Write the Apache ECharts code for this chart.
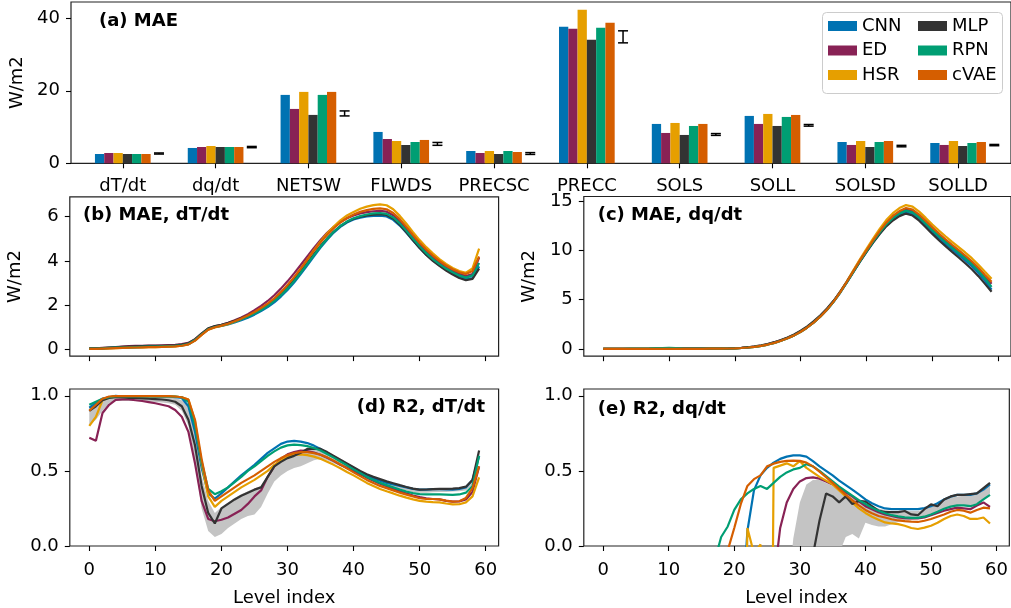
<!DOCTYPE html>
<html>
<head>
<meta charset="utf-8">
<script src="https://cdn.jsdelivr.net/npm/echarts@6/dist/echarts.min.js"></script>
<style>html,body{margin:0;padding:0;background:#fff;}#c{width:1011px;height:608px;}</style>
</head>
<body>
<div id="c"></div>
<script>
// ---------- DATA ----------
const models = ['CNN', 'ED', 'HSR', 'MLP', 'RPN', 'cVAE'];
const colors = ['#0072B2', '#882255', '#E69F00', '#333333', '#009E73', '#D55E00'];
const variables = ['dT/dt', 'dq/dt', 'NETSW', 'FLWDS', 'PRECSC', 'PRECC', 'SOLS', 'SOLL', 'SOLSD', 'SOLLD'];

// (a) MAE per variable
const maeCNN  = [2.57, 4.23, 18.87, 8.65, 3.40, 37.65, 10.86, 13.07, 5.88, 5.60];
const maeED   = [2.85, 4.50, 15.00, 6.70, 2.85, 37.10,  8.37, 10.86, 5.06, 5.06];
const maeHSR  = [2.85, 4.78, 19.70, 6.16, 3.40, 42.35, 11.13, 13.62, 6.16, 6.16];
const maeMLP  = [2.57, 4.50, 13.35, 5.05, 2.57, 34.06,  7.82, 10.30, 4.50, 4.78];
const maeRPN  = [2.57, 4.50, 18.87, 5.88, 3.40, 37.38, 10.30, 12.79, 5.88, 5.60];
const maeCVAE = [2.57, 4.50, 19.70, 6.44, 3.12, 38.76, 10.86, 13.34, 6.16, 5.88];
// reference error bars (low / high)
const refLow  = [2.55, 4.30, 13.07, 4.96, 2.45, 33.23, 7.70, 10.25, 4.55, 4.85];
const refHigh = [2.85, 4.65, 14.45, 5.75, 2.95, 36.55, 8.20, 10.70, 4.95, 5.20];

// (b) MAE dT/dt per level (levels 0..59)
const bCNN  = [0.02,0.02,0.03,0.04,0.05,0.06,0.07,0.08,0.09,0.10,0.10,0.11,0.12,0.13,0.16,0.22,0.40,0.66,0.90,1.00,1.05,1.12,1.21,1.31,1.42,1.56,1.72,1.90,2.12,2.38,2.68,3.02,3.40,3.80,4.20,4.60,4.96,5.28,5.54,5.74,5.88,5.96,6.01,6.04,6.05,6.01,5.86,5.60,5.27,4.92,4.58,4.28,4.02,3.80,3.60,3.44,3.30,3.18,3.22,3.75];
const bED   = [0.03,0.03,0.05,0.07,0.09,0.11,0.13,0.14,0.15,0.16,0.16,0.17,0.18,0.19,0.22,0.28,0.45,0.70,0.92,1.03,1.10,1.19,1.30,1.43,1.58,1.76,1.96,2.18,2.44,2.74,3.07,3.43,3.81,4.20,4.59,4.95,5.27,5.54,5.76,5.93,6.06,6.15,6.21,6.25,6.27,6.23,6.07,5.81,5.47,5.11,4.76,4.45,4.17,3.93,3.73,3.55,3.41,3.31,3.40,4.15];
const bHSR  = [0.01,0.01,0.02,0.03,0.04,0.05,0.06,0.07,0.08,0.09,0.09,0.10,0.11,0.12,0.15,0.21,0.38,0.64,0.88,0.98,1.05,1.13,1.24,1.36,1.50,1.66,1.84,2.04,2.28,2.56,2.88,3.24,3.64,4.06,4.48,4.88,5.24,5.56,5.84,6.06,6.22,6.36,6.46,6.53,6.56,6.52,6.34,6.04,5.68,5.30,4.94,4.62,4.34,4.08,3.86,3.68,3.54,3.46,3.66,4.55];
const bMLP  = [0.03,0.03,0.04,0.06,0.08,0.10,0.11,0.12,0.13,0.14,0.14,0.15,0.16,0.17,0.20,0.26,0.44,0.70,0.94,1.04,1.10,1.18,1.28,1.40,1.52,1.66,1.82,2.00,2.22,2.48,2.78,3.12,3.50,3.90,4.30,4.68,5.02,5.33,5.58,5.77,5.91,6.00,6.06,6.10,6.12,6.08,5.92,5.64,5.29,4.93,4.58,4.27,4.00,3.77,3.56,3.38,3.22,3.12,3.18,3.65];
const bRPN  = [0.02,0.02,0.03,0.05,0.06,0.07,0.08,0.09,0.10,0.11,0.11,0.12,0.13,0.14,0.17,0.23,0.41,0.67,0.90,1.00,1.06,1.14,1.24,1.35,1.47,1.61,1.77,1.96,2.18,2.44,2.74,3.08,3.46,3.86,4.26,4.65,5.00,5.32,5.58,5.78,5.93,6.03,6.10,6.15,6.17,6.13,5.97,5.70,5.36,5.00,4.66,4.35,4.08,3.85,3.65,3.48,3.34,3.24,3.34,3.90];
const bCVAE = [0.01,0.01,0.02,0.03,0.04,0.05,0.06,0.07,0.08,0.09,0.09,0.10,0.11,0.12,0.15,0.21,0.38,0.64,0.88,0.99,1.06,1.15,1.26,1.38,1.52,1.68,1.86,2.06,2.30,2.58,2.90,3.26,3.65,4.06,4.46,4.84,5.18,5.48,5.74,5.94,6.10,6.22,6.30,6.36,6.38,6.34,6.17,5.89,5.54,5.17,4.82,4.51,4.24,4.00,3.79,3.62,3.48,3.40,3.54,4.20];

// (c) MAE dq/dt per level
const cCNN  = [0.02,0.02,0.02,0.02,0.02,0.02,0.02,0.02,0.02,0.03,0.03,0.03,0.03,0.03,0.03,0.03,0.03,0.04,0.04,0.05,0.07,0.10,0.15,0.22,0.32,0.45,0.62,0.83,1.08,1.38,1.75,2.18,2.70,3.30,3.98,4.78,5.70,6.72,7.78,8.84,9.84,10.80,11.70,12.50,13.12,13.58,13.85,13.65,13.15,12.50,11.84,11.22,10.64,10.08,9.53,8.97,8.38,7.70,6.90,6.02];
const cED   = [0.02,0.02,0.02,0.02,0.02,0.02,0.02,0.02,0.02,0.03,0.03,0.03,0.03,0.03,0.03,0.03,0.04,0.05,0.05,0.06,0.08,0.11,0.17,0.25,0.35,0.49,0.67,0.89,1.14,1.44,1.81,2.24,2.76,3.36,4.05,4.86,5.80,6.84,7.92,9.00,10.02,11.00,11.92,12.74,13.40,13.88,14.16,13.98,13.48,12.84,12.18,11.56,10.98,10.42,9.88,9.32,8.74,8.06,7.32,6.62];
const cHSR  = [0.01,0.01,0.01,0.01,0.01,0.01,0.01,0.01,0.01,0.02,0.02,0.02,0.02,0.02,0.02,0.02,0.03,0.03,0.04,0.05,0.07,0.10,0.15,0.22,0.32,0.45,0.62,0.83,1.08,1.38,1.75,2.18,2.70,3.30,4.00,4.82,5.78,6.84,7.96,9.08,10.14,11.18,12.16,13.06,13.76,14.28,14.58,14.42,13.92,13.28,12.62,12.00,11.42,10.86,10.32,9.78,9.20,8.54,7.82,7.12];
const cMLP  = [0.02,0.02,0.02,0.02,0.02,0.02,0.02,0.02,0.02,0.03,0.03,0.03,0.03,0.03,0.03,0.03,0.04,0.05,0.05,0.06,0.08,0.12,0.18,0.26,0.37,0.51,0.69,0.91,1.17,1.48,1.86,2.30,2.82,3.42,4.10,4.88,5.78,6.78,7.82,8.86,9.84,10.78,11.64,12.42,13.02,13.46,13.72,13.52,13.00,12.34,11.66,11.02,10.42,9.84,9.27,8.69,8.08,7.38,6.60,5.80];
const cRPN  = [0.02,0.02,0.02,0.02,0.03,0.04,0.05,0.06,0.08,0.10,0.12,0.10,0.07,0.05,0.04,0.03,0.03,0.04,0.04,0.05,0.07,0.10,0.15,0.22,0.32,0.45,0.62,0.83,1.08,1.38,1.75,2.18,2.70,3.30,3.98,4.79,5.72,6.75,7.82,8.89,9.90,10.88,11.80,12.62,13.26,13.74,14.02,13.84,13.33,12.70,12.04,11.42,10.84,10.28,9.74,9.18,8.59,7.92,7.14,6.30];
const cCVAE = [0.01,0.01,0.01,0.01,0.01,0.01,0.01,0.01,0.01,0.02,0.02,0.02,0.02,0.02,0.02,0.02,0.03,0.03,0.04,0.05,0.07,0.10,0.15,0.22,0.32,0.45,0.62,0.83,1.08,1.38,1.75,2.18,2.70,3.30,3.99,4.80,5.74,6.79,7.88,8.97,10.00,11.00,11.94,12.80,13.48,13.98,14.28,14.12,13.62,12.98,12.32,11.70,11.12,10.56,10.02,9.47,8.89,8.23,7.50,6.80];

// (d) R2 dT/dt per level
const dCNN  = [0.92,0.95,0.98,0.99,1.00,0.995,0.995,0.995,0.995,0.995,0.995,0.995,0.995,0.99,0.985,0.93,0.76,0.52,0.35,0.315,0.35,0.39,0.43,0.47,0.505,0.54,0.58,0.62,0.65,0.68,0.695,0.70,0.695,0.685,0.668,0.646,0.62,0.595,0.57,0.545,0.52,0.495,0.47,0.45,0.435,0.42,0.41,0.40,0.39,0.38,0.375,0.375,0.378,0.378,0.376,0.375,0.38,0.39,0.44,0.60];
const dED   = [0.72,0.70,0.885,0.94,0.972,0.976,0.975,0.97,0.965,0.958,0.95,0.94,0.93,0.905,0.86,0.76,0.55,0.30,0.18,0.165,0.175,0.19,0.215,0.24,0.28,0.33,0.37,0.46,0.53,0.58,0.61,0.625,0.635,0.632,0.622,0.607,0.588,0.565,0.54,0.52,0.50,0.478,0.455,0.434,0.415,0.397,0.38,0.365,0.35,0.336,0.325,0.318,0.313,0.31,0.30,0.295,0.297,0.31,0.36,0.53];
const dHSR  = [0.80,0.86,0.97,0.99,0.998,0.998,0.998,0.998,0.998,0.998,0.998,0.998,0.998,0.995,0.99,0.975,0.83,0.55,0.33,0.26,0.30,0.33,0.36,0.39,0.415,0.44,0.47,0.50,0.54,0.57,0.595,0.607,0.61,0.605,0.595,0.58,0.56,0.54,0.517,0.493,0.47,0.445,0.42,0.40,0.38,0.364,0.35,0.335,0.322,0.31,0.30,0.295,0.292,0.29,0.283,0.277,0.278,0.29,0.33,0.457];
const dMLP  = [0.90,0.93,0.97,0.985,0.99,0.99,0.985,0.985,0.983,0.98,0.978,0.975,0.97,0.96,0.93,0.84,0.67,0.40,0.22,0.15,0.25,0.28,0.31,0.335,0.355,0.375,0.39,0.46,0.53,0.56,0.585,0.60,0.62,0.646,0.648,0.646,0.625,0.60,0.575,0.55,0.525,0.50,0.478,0.46,0.445,0.43,0.418,0.405,0.393,0.382,0.375,0.376,0.378,0.38,0.38,0.382,0.385,0.395,0.44,0.635];
const dRPN  = [0.94,0.96,0.98,0.99,0.995,0.995,0.995,0.995,0.995,0.995,0.995,0.995,0.995,0.995,0.99,0.96,0.80,0.56,0.38,0.345,0.365,0.39,0.425,0.46,0.50,0.53,0.565,0.60,0.63,0.655,0.67,0.675,0.672,0.665,0.652,0.635,0.612,0.588,0.562,0.537,0.51,0.485,0.46,0.44,0.42,0.405,0.39,0.375,0.362,0.352,0.345,0.343,0.343,0.344,0.342,0.34,0.343,0.355,0.40,0.60];
const dCVAE = [0.90,0.94,0.98,0.995,0.998,0.998,0.998,0.998,0.998,0.998,0.998,0.998,0.998,0.995,0.99,0.975,0.84,0.58,0.37,0.30,0.33,0.36,0.39,0.42,0.445,0.47,0.50,0.53,0.56,0.585,0.605,0.618,0.625,0.625,0.618,0.607,0.59,0.568,0.543,0.517,0.49,0.465,0.44,0.42,0.40,0.385,0.37,0.355,0.342,0.33,0.318,0.313,0.313,0.31,0.302,0.295,0.298,0.32,0.385,0.53];
const dBandLow  = [0.80,0.84,0.90,0.95,0.965,0.965,0.965,0.965,0.962,0.96,0.958,0.955,0.95,0.94,0.90,0.80,0.55,0.25,0.10,0.06,0.08,0.12,0.15,0.18,0.20,0.21,0.26,0.35,0.43,0.47,0.50,0.52,0.53,0.55,0.57,0.58,0.57,0.55,0.53,0.51,0.49,0.47,0.45,0.43,0.415,0.40,0.39,0.38,0.37,0.36,0.355,0.355,0.357,0.36,0.36,0.362,0.365,0.37,0.41,0.58];
const dBandHigh = [0.93,0.95,0.98,0.99,0.995,0.995,0.995,0.995,0.995,0.995,0.995,0.995,0.99,0.985,0.97,0.93,0.75,0.47,0.30,0.22,0.26,0.29,0.32,0.345,0.365,0.385,0.40,0.47,0.54,0.58,0.61,0.625,0.635,0.65,0.652,0.65,0.63,0.605,0.58,0.555,0.53,0.505,0.482,0.463,0.448,0.433,0.42,0.408,0.396,0.386,0.38,0.38,0.382,0.384,0.384,0.386,0.39,0.40,0.45,0.64];

// (e) R2 dq/dt per level (values below 0 fall off the axis)
const eCNN  = [-1.5,-1.5,-1.5,-1.5,-1.5,-1.5,-1.5,-1.5,-1.5,-1.5,-1.5,-1.5,-1.5,-1.5,-1.5,-1.5,-1.5,-1.5,-1.5,-1.5,-1.5,-0.6,0.10,0.37,0.47,0.52,0.555,0.58,0.595,0.603,0.603,0.595,0.565,0.53,0.50,0.47,0.435,0.405,0.375,0.343,0.31,0.285,0.265,0.25,0.245,0.245,0.245,0.245,0.245,0.252,0.265,0.285,0.31,0.328,0.34,0.34,0.34,0.35,0.375,0.41];
const eED   = [-1.5,-1.5,-1.5,-1.5,-1.5,-1.5,-1.5,-1.5,-1.5,-1.5,-1.5,-1.5,-1.5,-1.5,-1.5,-1.5,-1.5,-1.5,-1.5,-1.5,-1.5,-1.5,-1.5,-1.5,-1.5,-1.5,-0.25,0.12,0.29,0.38,0.43,0.452,0.457,0.448,0.43,0.41,0.385,0.358,0.33,0.297,0.265,0.245,0.225,0.21,0.20,0.19,0.185,0.183,0.183,0.19,0.205,0.22,0.235,0.245,0.255,0.25,0.245,0.27,0.29,0.26];
const eHSR  = [-3,-3,-3,-3,-3,-3,-3,-3,-3,-3,-3,-3,-3,-3,-3,-3,-3,-3,-3,-3,-3,-3,0.12,-0.05,0.01,-5,0.52,0.535,0.55,0.53,0.565,0.52,0.49,0.46,0.435,0.41,0.37,0.33,0.29,0.25,0.22,0.195,0.175,0.157,0.15,0.146,0.135,0.12,0.113,0.122,0.135,0.155,0.18,0.20,0.21,0.20,0.18,0.18,0.19,0.15];
const eMLP  = [-1.5,-1.5,-1.5,-1.5,-1.5,-1.5,-1.5,-1.5,-1.5,-1.5,-1.5,-1.5,-1.5,-1.5,-1.5,-1.5,-1.5,-1.5,-1.5,-1.5,-1.5,-1.5,-1.5,-1.5,-1.5,-1.5,-1.5,-1.5,-1.5,-1.5,-1.5,-1.5,-0.06,0.17,0.35,0.33,0.29,0.33,0.28,0.30,0.295,0.265,0.235,0.226,0.226,0.226,0.233,0.21,0.205,0.245,0.277,0.265,0.31,0.33,0.34,0.34,0.345,0.35,0.385,0.42];
const eRPN  = [-1.5,-1.5,-1.5,-1.5,-1.5,-1.5,-1.5,-1.5,-1.5,-1.5,-1.5,-1.5,-1.5,-1.5,-1.5,-1.5,-1.5,-0.1,0.06,0.13,0.24,0.31,0.35,0.38,0.40,0.38,0.42,0.46,0.49,0.51,0.52,0.545,0.53,0.50,0.465,0.43,0.395,0.365,0.335,0.305,0.28,0.255,0.235,0.218,0.205,0.197,0.19,0.187,0.187,0.195,0.21,0.228,0.248,0.262,0.27,0.27,0.265,0.278,0.31,0.34];
const eCVAE = [-1.5,-1.5,-1.5,-1.5,-1.5,-1.5,-1.5,-1.5,-1.5,-1.5,-1.5,-1.5,-1.5,-1.5,-1.5,-1.5,-1.5,-1.5,-1.5,-0.03,0.12,0.28,0.40,0.445,0.47,0.53,0.548,0.56,0.566,0.568,0.567,0.555,0.53,0.495,0.458,0.42,0.38,0.34,0.305,0.27,0.24,0.218,0.20,0.19,0.178,0.17,0.165,0.162,0.16,0.168,0.18,0.195,0.21,0.228,0.24,0.235,0.222,0.24,0.255,0.25];
const eBandLow  = [null,null,null,null,null,null,null,null,null,null,null,null,null,null,null,null,null,null,null,null,null,null,null,null,null,null,null,null,-0.4,-0.5,-0.5,-0.5,-0.5,-0.5,-0.5,-0.5,-0.05,0.06,0.08,0.05,0.155,0.14,0.13,0.13,0.145,0.16,0.17,0.175,0.18,0.19,0.205,0.225,0.245,0.26,0.27,0.27,0.27,0.285,0.315,0.35];
const eBandHigh = [null,null,null,null,null,null,null,null,null,null,null,null,null,null,null,null,null,null,null,null,null,null,null,null,null,null,null,null,-0.4,0.05,0.29,0.41,0.44,0.44,0.42,0.40,0.38,0.36,0.33,0.305,0.28,0.265,0.25,0.24,0.233,0.233,0.233,0.233,0.233,0.245,0.265,0.285,0.31,0.322,0.33,0.335,0.34,0.35,0.375,0.41];

const levelTicks = [0, 10, 20, 30, 40, 50, 60];
const maeTicksA = [0, 20, 40];
const maeTicksB = [0, 2, 4, 6];
const maeTicksC = [0, 5, 10, 15];
const r2Ticks = [0, 0.5, 1.0];

// ---------- CHART ----------
const FONT = '"DejaVu Sans", sans-serif';
const BAR_W = 0.1;
const ERR_OFF = 0.39;
const chart = echarts.init(document.getElementById('c'), null, { renderer: 'canvas' });

const maeSets = [maeCNN, maeED, maeHSR, maeMLP, maeRPN, maeCVAE];
const bSets = [bCNN, bED, bHSR, bMLP, bRPN, bCVAE];
const cSets = [cCNN, cED, cHSR, cMLP, cRPN, cCVAE];
const dSets = [dCNN, dED, dHSR, dMLP, dRPN, dCVAE];
const eSets = [eCNN, eED, eHSR, eMLP, eRPN, eCVAE];

const tickStyle = { show: true, length: 5, inside: false, lineStyle: { color: '#000', width: 1.1 } };
const labelBase = { color: '#000', fontSize: 18, fontFamily: FONT, margin: 11 };
const hiddenLine = { show: false, onZero: false };

function gridBox(left, top, width, height) {
  return { left, top, width, height, show: true, borderColor: '#222', borderWidth: 1.2, backgroundColor: 'transparent', containLabel: false };
}
function levelX(gi, showLabels) {
  return {
    type: 'value', gridIndex: gi, min: -2.95, max: 61.95, position: 'bottom',
    splitLine: { show: false }, axisLine: hiddenLine,
    axisTick: Object.assign({}, tickStyle, { customValues: levelTicks }),
    axisLabel: Object.assign({}, labelBase, { show: showLabels, customValues: levelTicks, margin: 15 }),
    name: showLabels ? 'Level index' : '', nameLocation: 'middle', nameGap: 43,
    nameTextStyle: { color: '#000', fontSize: 18, fontFamily: FONT }
  };
}
function valY(gi, min, max, ticks, name, fmt) {
  return {
    type: 'value', gridIndex: gi, min, max, position: 'left',
    splitLine: { show: false }, axisLine: hiddenLine,
    axisTick: Object.assign({}, tickStyle, { customValues: ticks }),
    axisLabel: Object.assign({}, labelBase, { customValues: ticks, formatter: fmt || (v => String(v)) }),
    name: name || '', nameLocation: 'middle', nameGap: 45, nameRotate: 90,
    nameTextStyle: { color: '#000', fontSize: 18, fontFamily: FONT }
  };
}

const series = [];
// (a) bars
models.forEach((m, k) => {
  series.push({
    type: 'custom', name: m, xAxisIndex: 0, yAxisIndex: 0,
    itemStyle: { color: colors[k] },
    data: variables.map((v, i) => [i, maeSets[k][i]]),
    renderItem: (params, api) => {
      const i = api.value(0), val = api.value(1);
      const x0 = i + (k - 2.5) * BAR_W - BAR_W / 2;
      const p1 = api.coord([x0, val]);
      const p2 = api.coord([x0 + BAR_W, 0]);
      return { type: 'rect', shape: { x: p1[0], y: p1[1], width: p2[0] - p1[0], height: p2[1] - p1[1] },
               style: { fill: colors[k] } };
    }
  });
});
// (a) reference error bars
series.push({
  type: 'custom', name: 'ref', xAxisIndex: 0, yAxisIndex: 0, silent: true,
  data: variables.map((v, i) => [i, refLow[i], refHigh[i]]),
  renderItem: (params, api) => {
    const x = api.value(0) + ERR_OFF;
    const lo = api.coord([x, api.value(1)]);
    const hi = api.coord([x, api.value(2)]);
    const cap = 5;
    const st = { stroke: '#000', lineWidth: 1.5 };
    return { type: 'group', children: [
      { type: 'line', shape: { x1: lo[0], y1: lo[1], x2: hi[0], y2: hi[1] }, style: st },
      { type: 'line', shape: { x1: lo[0] - cap, y1: lo[1], x2: lo[0] + cap, y2: lo[1] }, style: st },
      { type: 'line', shape: { x1: hi[0] - cap, y1: hi[1], x2: hi[0] + cap, y2: hi[1] }, style: st }
    ] };
  }
});
// bands
function bandSeries(gi, low, high) {
  return {
    type: 'custom', name: 'band' + gi, xAxisIndex: gi, yAxisIndex: gi, silent: true, clip: true, z: 1,
    data: [[0, 0]],
    renderItem: (params, api) => {
      const pts = [];
      for (let i = 0; i < high.length; i++) if (high[i] !== null) pts.push(api.coord([i, high[i]]));
      for (let i = low.length - 1; i >= 0; i--) if (low[i] !== null) pts.push(api.coord([i, low[i]]));
      return { type: 'polygon', shape: { points: pts }, style: { fill: '#c4c4c4' } };
    }
  };
}
series.push(bandSeries(3, dBandLow, dBandHigh));
series.push(bandSeries(4, eBandLow, eBandHigh));
// line panels
function lineSeries(gi, sets) {
  models.forEach((m, k) => {
    series.push({
      type: 'line', name: m, xAxisIndex: gi, yAxisIndex: gi, showSymbol: false, symbol: 'none',
      clip: true, z: 3,
      lineStyle: { color: colors[k], width: 2.2 }, itemStyle: { color: colors[k] },
      data: sets[k].map((v, i) => [i, v])
    });
  });
}
lineSeries(1, bSets);
lineSeries(2, cSets);
lineSeries(3, dSets);
lineSeries(4, eSets);

const legendCommon = {
  orient: 'vertical', top: 16, itemWidth: 29, itemHeight: 10, itemGap: 4.5, icon: 'rect', padding: 0,
  textStyle: { color: '#000', fontSize: 18, fontFamily: FONT, lineHeight: 20 }, selectedMode: false
};

const option = {
  animation: false,
  backgroundColor: '#fff',
  grid: [
    gridBox(70, 2, 944, 161.3),
    gridBox(69.8, 196.9, 428.8, 159.2),
    gridBox(583.8, 196.5, 428.4, 159.7),
    gridBox(69.8, 389, 428.8, 160.3),
    gridBox(583.8, 389, 428.4, 160.3)
  ],
  xAxis: [
    {
      type: 'value', gridIndex: 0, min: -0.558, max: 9.57, position: 'bottom',
      splitLine: { show: false }, axisLine: hiddenLine,
      axisTick: Object.assign({}, tickStyle, { customValues: variables.map((v, i) => i) }),
      axisLabel: Object.assign({}, labelBase, { customValues: variables.map((v, i) => i), margin: 14,
        formatter: v => variables[Math.round(v)] })
    },
    levelX(1, false), levelX(2, false), levelX(3, true), levelX(4, true)
  ],
  yAxis: [
    valY(0, 0, 44.5, maeTicksA, 'W/m2'),
    valY(1, -0.32, 6.9, maeTicksB, 'W/m2'),
    valY(2, -0.73, 15.45, maeTicksC, 'W/m2'),
    valY(3, 0, 1.045, r2Ticks, '', v => v.toFixed(1)),
    valY(4, 0, 1.045, r2Ticks, '', v => v.toFixed(1))
  ],
  legend: [
    Object.assign({}, legendCommon, { left: 828, data: ['CNN', 'ED', 'HSR'] }),
    Object.assign({}, legendCommon, { left: 918, data: ['MLP', 'RPN', 'cVAE'] })
  ],
  graphic: [
    { type: 'rect', z: 3, shape: { x: 822.5, y: 12.5, width: 180, height: 81, r: 4 },
      style: { fill: 'rgba(255,255,255,0.8)', stroke: '#cccccc', lineWidth: 1 } },
    { type: 'text', z: 10, x: 99, y: 21, style: { text: '(a) MAE', font: 'bold 18px ' + FONT, fill: '#000', textVerticalAlign: 'middle' } },
    { type: 'text', z: 10, x: 83, y: 215.5, style: { text: '(b) MAE, dT/dt', font: 'bold 18px ' + FONT, fill: '#000', textVerticalAlign: 'middle' } },
    { type: 'text', z: 10, x: 597.7, y: 215.5, style: { text: '(c) MAE, dq/dt', font: 'bold 18px ' + FONT, fill: '#000', textVerticalAlign: 'middle' } },
    { type: 'text', z: 10, x: 485, y: 407.5, style: { text: '(d) R2, dT/dt', font: 'bold 18px ' + FONT, fill: '#000', textAlign: 'right', textVerticalAlign: 'middle' } },
    { type: 'text', z: 10, x: 597.7, y: 409, style: { text: '(e) R2, dq/dt', font: 'bold 18px ' + FONT, fill: '#000', textVerticalAlign: 'middle' } }
  ],
  series
};
chart.setOption(option);
</script>
</body>
</html>
